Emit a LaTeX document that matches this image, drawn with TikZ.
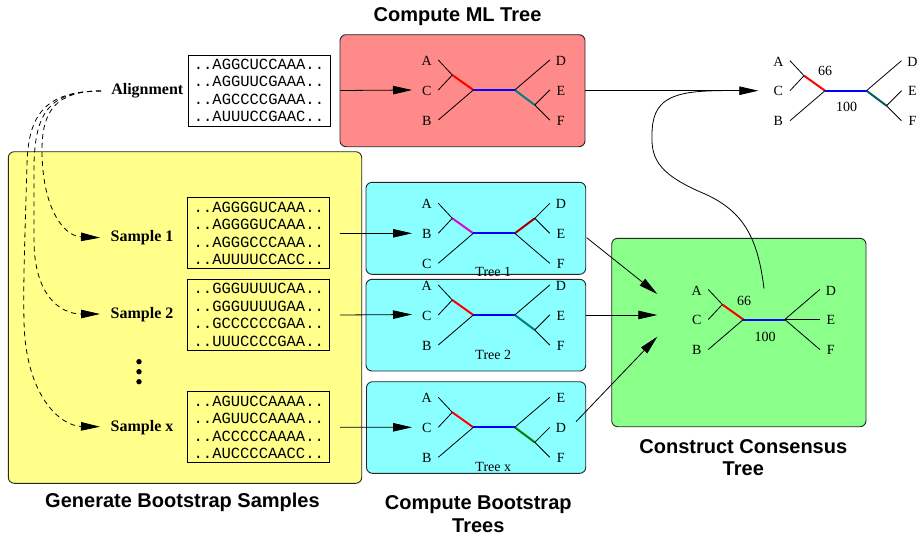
\documentclass[tikz,border=0pt]{standalone}
\usepackage{fontspec}
\setmainfont{Liberation Serif}
\setsansfont{Liberation Sans}
\setmonofont{Liberation Mono}
\usetikzlibrary{arrows.meta}
\definecolor{boxred}{RGB}{255,138,138}
\definecolor{boxyellow}{RGB}{255,255,138}
\definecolor{boxcyan}{RGB}{138,255,255}
\definecolor{boxgreen}{RGB}{138,255,138}
\definecolor{brteal}{RGB}{0,128,128}
\definecolor{brdteal}{RGB}{0,95,90}
\definecolor{brmag}{RGB}{220,0,220}
\definecolor{brdred}{RGB}{165,0,0}
\definecolor{brgreen}{RGB}{0,128,0}
\tikzset{
  panel/.style={draw=black!85, line width=0.9pt, rounded corners=6pt},
  seqbox/.style={draw, line width=0.8pt, font=\fontsize{15.5}{17.5}\selectfont\ttfamily,
    align=left, inner sep=2pt, minimum width=142pt, minimum height=71pt},
  leaf/.style={line width=0.8pt},
  innerbr/.style={line width=2pt},
  taxon/.style={font=\fontsize{14}{16}\selectfont, inner sep=0pt},
  title/.style={font=\fontsize{20}{22.3}\selectfont\sffamily\bfseries, align=center},
  sampl/.style={font=\fontsize{16}{18}\selectfont\bfseries, inner sep=0pt},
  flow/.style={line width=0.8pt, -{Triangle[length=19pt,width=8.5pt]}},
  dflow/.style={flow, dash pattern=on 5pt off 4pt},
}
% left half of a tree: #1 prefix, #2 position of L, #3 top, #4 mid, #5 bottom, #6 colour
\newcommand\treeleft[6]{%
  \path (#2) coordinate (#1L) ++(-21,-15) coordinate (#1s);
  \draw[innerbr,#6] (#1L) -- (#1s);
  \draw[leaf] (#1s) -- ++(-14,-15);
  \draw[leaf] (#1s) -- ++(-14,15);
  \draw[leaf] (#1L) -- ++(-35,30);
  \path (#1L) ++(-46.6,-29) node[taxon] (#1ta) {#3};
  \path (#1L) ++(-46.6,0.5) node[taxon] (#1tb) {#4};
  \path (#1L) ++(-46.6,30.5) node[taxon] (#1tc) {#5};
}
% right half: #1 prefix, #2 position of R, #3 top, #4 mid, #5 bottom, #6 colour,
% #7 y of sub node, #8 y of the direct leaf
\newcommand\treeright[8]{%
  \path (#2) coordinate (#1R) ++(20,#7) coordinate (#1u);
  \draw[innerbr,#6] (#1R) -- (#1u);
  \draw[leaf] (#1u) -- ++(15,-15);
  \draw[leaf] (#1u) -- ++(15,15);
  \draw[leaf] (#1R) -- ++(35,#8);
  \path (#1R) ++(46,-29) node[taxon] (#1td) {#3};
  \path (#1R) ++(46,0.5) node[taxon] (#1te) {#4};
  \path (#1R) ++(46,30.5) node[taxon] (#1tf) {#5};
}
\begin{document}
\begin{tikzpicture}[x=1pt,y=-1pt]
\useasboundingbox[fill=white] (0,0) rectangle (918,536);

% panels
\draw[panel, fill=boxyellow] (8.3,151.7) rectangle (361.7,483.3);
\draw[panel, fill=boxred] (340,34.7) rectangle (585,146.7);
\draw[panel, fill=boxcyan] (366,182.3) rectangle (585.7,274.3);
\draw[panel, fill=boxcyan] (366,279.3) rectangle (585.7,371);
\draw[panel, fill=boxcyan] (366.5,381.7) rectangle (585.7,473.3);
\draw[panel, fill=boxgreen] (611.7,238.3) rectangle (866,426.7);

% titles
\node[title] (tml) at (457.5,17) {Compute ML Tree};
\node[title] (tgen) at (182.5,502.3) {Generate Bootstrap Samples};
\node[title] (tboot) at (478.3,514) {Compute Bootstrap\\Trees};
\node[title] (tcons) at (743.3,457.3) {Construct Consensus\\Tree};

% alignment and samples
\node[seqbox] (aln) at (259,90.5) {..AGGCUCCAAA..\\..AGGUUCGAAA..\\..AGCCCCGAAA..\\..AUUUCCGAAC..};
\node[seqbox] (s1) at (258.8,233.3) {..AGGGGUCAAA..\\..AGGGGUCAAA..\\..AGGGCCCAAA..\\..AUUUUCCACC..};
\node[seqbox] (s2) at (258.8,315) {..GGGUUUUCAA..\\..GGGUUUUGAA..\\..GCCCCCCGAA..\\..UUUCCCCGAA..};
\node[seqbox] (sx) at (258.8,427.2) {..AGUUCCAAAA..\\..AGUUCCAAAA..\\..ACCCCCAAAA..\\..AUCCCCAACC..};

\node[sampl, anchor=east] (lal) at (183.5,91) {Alignment};
\node[sampl, anchor=west] (l1) at (110.5,237.8) {Sample 1};
\node[sampl, anchor=west] (l2) at (110.5,314.2) {Sample 2};
\node[sampl, anchor=west] (lx) at (110.5,428) {Sample x};

\fill (139,361.7) circle (2.7) (139,371.7) circle (2.7) (139,381.7) circle (2.7);

% dashed resampling curves
\coordinate (dstart) at (101,91);
\coordinate (d1) at (100,237.7);
\coordinate (d2) at (100,314);
\coordinate (d3) at (100,426.7);
\draw[dflow] (dstart) .. controls (55,91) and (42,112) .. (42,150)
  .. controls (42,205) and (62,236) .. (d1);
\draw[dflow] (dstart) .. controls (50,91) and (35,112) .. (34,165)
  -- (34,240) .. controls (34,295) and (60,314) .. (d2);
\draw[dflow] (dstart) .. controls (45,91) and (28,115) .. (27,165)
  .. controls (25,230) and (23,290) .. (24,320)
  .. controls (25,395) and (60,426) .. (d3);

% trees
\treeleft{ml}{473.3,90}{A}{C}{B}{red}
\treeright{ml}{514.8,90}{D}{E}{F}{brteal}{15}{-30}

\treeleft{t1}{473.3,233.3}{A}{B}{C}{brmag}
\treeright{t1}{514.8,233.3}{D}{E}{F}{brdred}{-15}{30}
\node[taxon] (n1) at (493.3,272.3) {Tree 1};

\treeleft{t2}{473.3,315}{A}{C}{B}{red}
\treeright{t2}{514.8,315}{D}{E}{F}{brteal}{15}{-30}
\node[taxon] (n2) at (493.3,355) {Tree 2};

\treeleft{tx}{473.3,427.3}{A}{C}{B}{red}
\treeright{tx}{514.8,427.3}{E}{D}{F}{brgreen}{15}{-30}
\node[taxon] (nx) at (493.3,467) {Tree x};

\treeleft{tr}{825,90.7}{A}{C}{B}{red}
\treeright{tr}{866.5,90.7}{D}{E}{F}{brdteal}{15}{-30}
\node[taxon] (tr66) at (825,71) {66};
\node[taxon] (tr100) at (846.7,107) {100};

\treeleft{cs}{743.3,319.5}{A}{C}{B}{red}
\path (743.3,319.5) ++(41.5,0) coordinate (csR);
\draw[innerbr,blue] (csL) -- (csR);
\draw[leaf] (csR) -- ++(35,-30);
\draw[leaf] (csR) -- ++(35,0);
\draw[leaf] (csR) -- ++(35,30);
\path (csR) ++(46,-29) node[taxon] (cstd) {D};
\path (csR) ++(46,0.5) node[taxon] (cste) {E};
\path (csR) ++(46,30.5) node[taxon] (cstf) {F};
\node[taxon] (cs66) at (744,301) {66};
\node[taxon] (cs100) at (765,337) {100};

\draw[innerbr,blue] (mlL) -- (mlR);
\draw[innerbr,blue] (t1L) -- (t1R);
\draw[innerbr,blue] (t2L) -- (t2R);
\draw[innerbr,blue] (txL) -- (txR);
\draw[innerbr,blue] (trL) -- (trR);

% flow arrows
\coordinate (mlin) at (412,90);
\coordinate (t1in) at (412,233.3);
\coordinate (t2in) at (412,314.5);
\coordinate (txin) at (412,427.3);
\draw[flow] (aln.east) ++(10,0) -- (mlin);
\draw[flow] (s1.east) ++(10,0) -- (t1in);
\draw[flow] (s2.east) ++(10,0) -- (t2in);
\draw[flow] (sx.east) ++(10,0) -- (txin);

\coordinate (mlout) at (585,90.7);
\coordinate (trin) at (758.3,90.7);
\draw[flow] (mlout) -- (trin);

\coordinate (t1out) at (586.7,237.7);
\coordinate (t2out) at (585.7,315);
\coordinate (txout) at (576,421.7);
\coordinate (cin1) at (657.3,294);
\coordinate (cin2) at (657.3,315);
\coordinate (cin3) at (657.3,336.7);
\draw[flow] (t1out) -- (cin1);
\draw[flow] (t2out) -- (cin2);
\draw[flow] (txout) -- (cin3);

\coordinate (csup) at (764,288.5);
\coordinate (merge) at (722,90.7);
\draw[leaf] (csup) .. controls (758,240) and (745,212) .. (705,194)
  .. controls (660,175) and (651,160) .. (652,135)
  .. controls (652,100) and (670,90.7) .. (merge);
\end{tikzpicture}
\end{document}
